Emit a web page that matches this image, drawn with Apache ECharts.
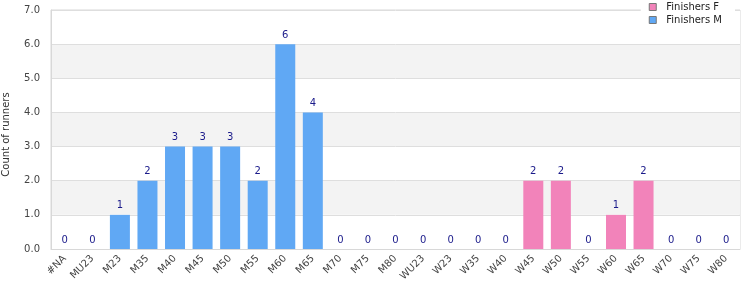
<!DOCTYPE html>
<html>
<head>
<meta charset="utf-8">
<script src="https://cdn.jsdelivr.net/npm/echarts@6/dist/echarts.min.js"></script>
<style>
	html, body { margin: 0; padding: 0; background: #fff; }
	#chart { width: 750px; height: 300px; }
</style>
</head>
<body>
<div id="chart"></div>
<script>
// age categories along the x axis
const categories = ['#NA', 'MU23', 'M23', 'M35', 'M40', 'M45', 'M50', 'M55', 'M60', 'M65', 'M70', 'M75', 'M80',
	'WU23', 'W23', 'W35', 'W40', 'W45', 'W50', 'W55', 'W60', 'W65', 'W70', 'W75', 'W80']

// counts per category (null where the other series owns the slot)
const finishersM = [0, 0, 1, 2, 3, 3, 3, 2, 6, 4, 0, 0, 0, null, null, null, null, null, null, null, null, null, null, null, null]
const finishersF = [null, null, null, null, null, null, null, null, null, null, null, null, null, 0, 0, 0, 0, 2, 2, 0, 1, 2, 0, 0, 0]

const yTicks = { min: 0, max: 7, interval: 1 }

const chart = echarts.init(document.getElementById('chart'))

const labelStyle = {
	show: true,
	position: 'top',
	color: '#1a1a8a',
	fontSize: 10,
	fontFamily: 'DejaVu Sans',
	distance: 4
}

chart.setOption({
	animation: false,
	textStyle: { fontFamily: 'DejaVu Sans' },
	legend: {
		orient: 'vertical',
		right: 15,
		top: 0,
		padding: [2, 13, 3, 8],
		itemGap: 3,
		itemWidth: 7,
		itemHeight: 7,
		icon: 'rect',
		backgroundColor: '#fff',
		textStyle: { fontSize: 10, color: '#222', padding: [0, 0, 0, 5] },
		data: [
			{ name: 'Finishers F', itemStyle: { borderColor: '#777', borderWidth: 1 } },
			{ name: 'Finishers M', itemStyle: { borderColor: '#777', borderWidth: 1 } }
		]
	},
	grid: {
		left: 51,
		right: 10,
		top: 10,
		bottom: 51,
		outerBoundsMode: 'none',
		containLabel: false,
		show: true,
		borderColor: '#d8d8d8',
		borderWidth: 1,
		z: 0
	},
	xAxis: {
		type: 'category',
		data: categories,
		axisLine: { lineStyle: { color: '#d8d8d8' } },
		axisTick: { show: false },
		axisLabel: {
			rotate: 45,
			interval: 0,
			fontSize: 10,
			color: '#444',
			margin: 8
		}
	},
	yAxis: {
		type: 'value',
		min: yTicks.min,
		max: yTicks.max,
		interval: yTicks.interval,
		name: 'Count of runners',
		nameLocation: 'middle',
		nameGap: 40,
		nameTextStyle: { fontSize: 10, color: '#333', padding: [0, 10, 0, 0] },
		axisLine: { show: true, lineStyle: { color: '#d8d8d8' } },
		axisTick: { show: false },
		axisLabel: {
			fontSize: 10,
			color: '#444',
			margin: 11,
			formatter: v => v.toFixed(1)
		},
		splitLine: { lineStyle: { color: '#dedede' } },
		splitArea: { show: true, areaStyle: { color: ['#ffffff', '#f3f3f3'] } }
	},
	series: [
		{
			name: 'Finishers F',
			type: 'bar',
			stack: 'total',
			barWidth: 20,
			data: finishersF,
			itemStyle: { color: '#f283ba' },
			label: labelStyle
		},
		{
			name: 'Finishers M',
			type: 'bar',
			stack: 'total',
			barWidth: 20,
			data: finishersM,
			itemStyle: { color: '#60a8f4' },
			label: labelStyle
		}
	]
})
</script>
</body>
</html>
